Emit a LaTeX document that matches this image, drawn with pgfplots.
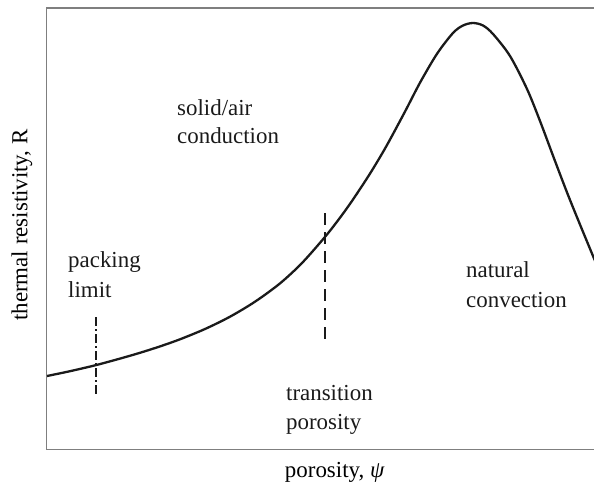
\documentclass[border=0pt]{standalone}
\usepackage{fontspec}
\setmainfont{Liberation Serif}
\usepackage{pgfplots}
\pgfplotsset{compat=1.18}
\definecolor{framegray}{HTML}{7F7F7F}
\definecolor{curveblack}{HTML}{1A1A1A}
\begin{document}
\begin{tikzpicture}
\useasboundingbox (0,0) rectangle (594bp,486bp);
\begin{axis}[
  at={(46bp,36bp)}, anchor=origin,
  scale only axis, width=548bp, height=442bp,
  xmin=0, xmax=548, ymin=0, ymax=442,
  axis line style={draw=none},
  xtick=\empty, ytick=\empty,
  every axis label/.append style={font=\fontsize{23}{28}\selectfont},
  xlabel={porosity, \textit{ψ}},
  xlabel style={at={(axis description cs:0.527,0)}, anchor=base, yshift=-27bp},
  ylabel={thermal resistivity, R},
  ylabel style={at={(axis description cs:-0.0438,0.509)}, anchor=center},
  clip=true,
]
\draw[framegray, line width=1.3bp] (rel axis cs:1,1) -- (rel axis cs:0,1) -- (rel axis cs:0,0) -- (rel axis cs:1,0);
\addplot[curveblack, line width=2.3bp, smooth] coordinates {
(1,74) (24,78.8) (50,84.9) (74,91.4) (94,97.2) (114,103.6) (134,110.7)
(159,121) (184,133.3) (209,148.3) (234,166.6) (256,187) (279,213.1)
(294,232.3) (307,250.5) (324,276.4) (340,303.2) (359,338.4) (374,367.3)
(391,396.2) (407,417) (417,424.5) (427,427) (437,424.5) (447,416)
(464,394) (481,361) (494,329) (509,289) (524,250) (547,194) (559,166)
};
\addplot[curveblack, line width=1.2bp, dash pattern=on 9bp off 3bp on 2bp off 3bp] coordinates {(50,56) (50,133)};
\addplot[curveblack, line width=1.2bp, dash pattern=on 12bp off 7bp] coordinates {(279,111) (279,238)};
\begin{scope}[every node/.style={anchor=base west, inner sep=0pt, font=\fontsize{23}{28}\selectfont, text=curveblack}]
\node at (axis cs:22,182) {packing};
\node at (axis cs:22,152) {limit};
\node at (axis cs:131,334) {solid/air};
\node at (axis cs:131,306) {conduction};
\node at (axis cs:240,49) {transition};
\node at (axis cs:240,21) {porosity};
\node at (axis cs:420,172) {natural};
\node at (axis cs:420,142) {convection};
\end{scope}
\end{axis}
\end{tikzpicture}
\end{document}
